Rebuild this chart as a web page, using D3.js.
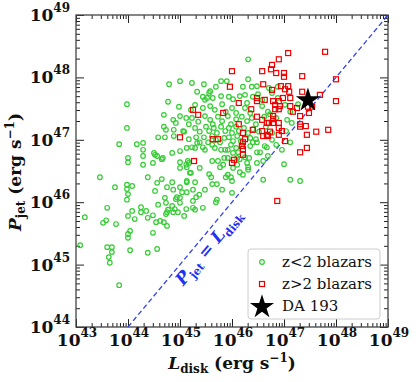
<!DOCTYPE html>
<html>
<head>
<meta charset="utf-8">
<script src="https://d3js.org/d3.v7.min.js"></script>
<style>
  body { margin: 0; background: #fff; }
  text { font-family: "DejaVu Serif", "Liberation Serif", serif; }
</style>
</head>
<body>
<script>
// values are log10 of L_disk and P_jet (erg s^-1)
var lowZ = [
  [43.83,46.93],[44.17,46.93],[44.29,46.95],[44.29,46.84],[44.50,46.79],[44.29,46.74],[44.00,46.71],[44.00,46.64],
  [44.48,46.63],[44.29,46.60],[43.46,46.40],[44.38,46.40],[43.98,46.28],[44.08,46.26],[43.75,46.24],[43.98,46.21],
  [44.52,46.18],[44.00,46.13],[43.98,46.04],[43.60,45.91],[44.25,45.92],[44.08,45.86],[44.25,45.84],[44.35,45.86],
  [43.17,45.76],[44.00,45.78],[44.48,45.79],[44.13,45.73],[44.38,45.75],[43.58,45.71],[44.75,45.84],[44.87,45.84],
  [44.96,45.84],[45.08,45.78],[43.52,45.67],[43.77,45.65],[44.54,45.68],[44.62,45.70],[44.69,45.68],[44.75,45.62],
  [44.04,45.54],[44.00,45.49],[44.00,45.43],[44.48,45.51],[43.08,45.31],[43.60,45.28],[43.69,45.28],[43.69,45.20],
  [44.04,45.23],[44.56,45.25],[44.38,45.19],[43.63,45.12],[43.65,45.03],[43.83,44.67],[43.98,47.57],[43.98,47.19],
  [44.52,46.76],[44.67,46.71],[44.85,46.79],[44.65,46.37],[44.56,46.31],[44.79,47.89],[45.00,47.94],[45.23,47.91],
  [45.46,47.89],[44.77,47.61],[44.69,47.40],[44.69,47.21],[44.73,47.16],[44.87,47.32],[44.92,47.27],[44.98,47.53],
  [45.00,47.38],[45.17,47.25],[45.06,47.14],[44.88,47.16],[45.00,46.82],[45.00,46.64],[45.00,46.55],[45.17,46.63],
  [45.19,46.47],[45.13,46.32],[45.29,46.32],[44.75,46.24],[45.69,47.85],[45.79,47.94],[45.90,47.94],[44.58,47.04],
  [44.71,47.04],[44.88,47.06],[45.17,47.01],[45.08,47.13],[45.29,46.87],[45.13,46.87],[45.23,46.88],[44.56,46.74],
  [44.65,46.69],[45.15,46.66],[45.12,46.60],[45.13,46.56],[45.38,46.55],[45.62,46.66],[45.73,46.66],[45.85,46.71],
  [45.77,46.56],[45.88,46.40],[45.56,46.45],[45.60,46.40],[45.21,46.47],[44.85,46.32],[45.13,46.34],[45.62,46.29],
  [45.00,46.24],[45.04,46.16],[45.13,46.16],[45.25,46.20],[44.94,46.08],[44.92,46.05],[45.00,46.07],[44.71,46.07],
  [45.25,46.02],[45.71,46.04],[44.58,45.96],[44.85,45.94],[45.00,45.99],[45.12,45.89],[45.25,45.91],[45.44,45.91],
  [44.90,45.89],[44.77,45.88],[45.38,46.96],[45.46,47.04],[45.54,46.96],[45.44,46.88],[45.48,46.84],[45.62,46.92],
  [45.77,46.96],[45.85,47.03],[45.79,46.84],[45.87,46.84],[45.67,46.87],[45.33,46.95],[46.48,46.96],[46.40,46.96],
  [46.67,46.88],[46.54,46.80],[46.48,46.80],[46.69,46.74],[46.60,46.66],[46.48,46.63],[46.96,46.84],[47.00,46.61],
  [46.29,46.63],[46.31,46.56],[46.31,46.52],[45.92,46.71],[46.10,46.71],[46.15,46.69],[45.92,46.44],[45.98,46.40],
  [46.00,46.34],[46.21,46.44],[46.60,46.36],[47.12,46.36],[46.00,46.15],[45.71,46.29],[45.69,46.00],[47.31,46.34],
  [45.29,45.88],[46.25,46.72],[46.33,46.71],[46.63,46.90],[46.31,48.29],[46.31,47.97],[46.21,47.85],[46.38,47.85],
  [46.48,47.86],[46.71,47.83],[46.88,47.85],[45.58,47.78],[45.44,47.69],[45.52,47.67],[45.63,47.67],[45.56,47.75],
  [45.79,47.70],[45.94,47.69],[46.02,47.65],[46.15,47.70],[46.25,47.72],[46.40,47.69],[46.50,47.73],[46.77,47.75],
  [46.88,47.67],[45.29,47.56],[45.44,47.51],[45.58,47.54],[45.67,47.48],[45.81,47.57],[45.88,47.45],[46.00,47.51],
  [46.08,47.43],[46.25,47.51],[46.35,47.43],[46.58,47.54],[46.69,47.45],[47.02,47.56],[47.12,47.45],[47.27,47.57],
  [45.23,47.35],[45.35,47.29],[45.48,47.38],[45.58,47.32],[45.63,47.25],[45.73,47.37],[45.81,47.30],[45.92,47.38],
  [45.98,47.25],[46.08,47.33],[46.19,47.37],[46.29,47.30],[46.38,47.35],[46.46,47.25],[46.62,47.37],[46.73,47.41],
  [46.85,47.35],[47.06,47.32],[47.15,47.27],[45.29,47.19],[45.38,47.13],[45.50,47.21],[45.56,47.14],[45.65,47.19],
  [45.71,47.11],[45.79,47.21],[45.87,47.14],[45.94,47.19],[46.00,47.11],[46.08,47.21],[46.13,47.14],[46.23,47.19],
  [46.31,47.11],[46.40,47.17],[46.52,47.13],[46.65,47.21],[46.77,47.11],[47.04,47.14],[45.31,47.04],[45.62,47.06],
  [45.69,47.00],[45.94,47.04],[46.02,46.98],[46.10,47.06],[46.17,46.98],[45.98,46.92],[46.08,46.87],[45.92,46.84],
  [46.35,47.03],[46.35,46.90],[46.46,47.01],[46.77,47.00],[46.85,46.92],[47.12,46.96],[46.02,46.79],[46.12,46.80],
  [46.02,46.55],[46.10,46.60],[45.83,46.60],[46.15,46.48],[45.48,47.64],[45.21,47.48],[45.12,47.35],[45.33,47.77],
  [46.58,47.64],[46.29,47.59],[45.48,46.20],[45.81,46.20],[45.37,46.12],[44.87,46.20],[45.31,46.08],[44.73,45.99],
  [44.73,45.81]
];
var highZ = [
  [47.08,48.39],[47.79,48.41],[46.90,48.29],[46.77,48.20],[46.75,48.13],[46.58,48.10],[46.00,48.10],[46.85,48.07],
  [47.00,48.07],[47.00,48.01],[47.35,48.02],[48.00,47.97],[46.60,47.89],[45.96,47.85],[46.94,47.86],[47.08,47.86],
  [46.77,47.80],[47.02,47.81],[47.10,47.77],[47.35,47.77],[47.69,47.72],[46.48,47.67],[46.48,47.62],[46.98,47.67],
  [47.12,47.67],[46.63,47.64],[46.79,47.62],[46.90,47.62],[46.13,47.59],[46.83,47.56],[46.92,47.54],[46.83,47.49],
  [46.90,47.49],[47.12,47.54],[47.54,47.53],[47.46,47.53],[48.00,47.62],[46.37,47.49],[47.25,47.51],[45.83,47.43],
  [47.17,47.45],[47.48,47.43],[46.48,47.37],[46.58,47.32],[46.79,47.38],[46.79,47.33],[46.71,47.27],[46.79,47.27],
  [46.67,47.27],[47.31,47.38],[46.13,47.25],[46.40,47.16],[46.90,47.27],[46.90,47.19],[46.96,47.14],[46.90,47.08],
  [47.31,47.25],[47.31,47.21],[47.42,47.22],[47.62,47.13],[47.85,47.16],[46.58,47.14],[46.73,47.13],[46.67,47.08],
  [46.60,47.06],[46.69,47.06],[46.21,47.11],[47.44,47.08],[45.63,47.01],[45.73,47.01],[46.25,47.01],[46.21,46.96],
  [47.02,46.98],[47.44,46.87],[47.31,46.80],[46.19,46.90],[46.21,46.85],[46.21,46.76],[46.00,46.63],[46.04,46.68],
  [46.87,46.02],[45.25,47.48],[45.35,47.40],[45.00,47.04],[45.27,46.66]
];
var da193 = [[47.46,47.65]];

var xDecades = [43,44,45,46,47,48,49];
var yDecades = [44,45,46,47,48,49];
var legendLabels = ["z<2 blazars", "z>2 blazars", "DA 193"];

var W = 416, H = 382;
var pL = 76, pR = 388, pT = 15, pB = 327;

var svg = d3.select("body").append("svg").attr("width", W).attr("height", H);

var x = d3.scaleLog().domain([1e43, 1e49]).range([pL, pR]);
var y = d3.scaleLog().domain([1e44, 1e49]).range([pB, pT]);

function minors(decs) {
  var out = [];
  for (var i = 0; i < decs.length - 1; i++)
    for (var k = 2; k <= 9; k++) out.push(k * Math.pow(10, decs[i]));
  return out;
}
var xMaj = xDecades.map(function(d) { return Math.pow(10, d); });
var yMaj = yDecades.map(function(d) { return Math.pow(10, d); });

function drawAxis(axisFn, scale, vals, size, tx, ty) {
  var g = svg.append("g").attr("transform", "translate(" + tx + "," + ty + ")")
    .call(axisFn(scale).tickValues(vals).tickSize(size).tickFormat(""));
  g.select(".domain").remove();
  g.selectAll(".tick line").attr("stroke", "#222").attr("stroke-width", 1);
}
// inward ticks on all four sides
drawAxis(d3.axisBottom, x, xMaj, -8, 0, pB);
drawAxis(d3.axisBottom, x, minors(xDecades), -4, 0, pB);
drawAxis(d3.axisTop, x, xMaj, -8, 0, pT);
drawAxis(d3.axisTop, x, minors(xDecades), -4, 0, pT);
drawAxis(d3.axisLeft, y, yMaj, -8, pL, 0);
drawAxis(d3.axisLeft, y, minors(yDecades), -4, pL, 0);
drawAxis(d3.axisRight, y, yMaj, -8, pR, 0);
drawAxis(d3.axisRight, y, minors(yDecades), -4, pR, 0);

svg.append("rect").attr("x", pL).attr("y", pT)
  .attr("width", pR - pL).attr("height", pB - pT)
  .attr("fill", "none").attr("stroke", "#444").attr("stroke-width", 1.3);

// tick labels
xDecades.forEach(function(d) {
  var t = svg.append("text").attr("x", x(Math.pow(10, d)) + 1).attr("y", 346)
    .attr("text-anchor", "middle").attr("font-size", 17).attr("font-weight", "bold").attr("fill", "#111");
  t.append("tspan").text("10");
  t.append("tspan").attr("dy", -9).attr("font-size", 12).text(d);
});
yDecades.forEach(function(d) {
  var t = svg.append("text").attr("x", 70).attr("y", y(Math.pow(10, d)) + 6)
    .attr("text-anchor", "end").attr("font-size", 17).attr("font-weight", "bold").attr("fill", "#111");
  t.append("tspan").text("10");
  t.append("tspan").attr("dy", -9).attr("font-size", 12).text(d);
});

// axis titles
var xl = svg.append("text").attr("x", 232).attr("y", 369).attr("text-anchor", "middle")
  .attr("font-size", 17).attr("font-weight", "bold").attr("fill", "#111");
xl.append("tspan").attr("font-style", "italic").text("L");
xl.append("tspan").attr("dy", 4).attr("font-size", 12).text("disk");
xl.append("tspan").attr("dy", -4).text(" (erg s");
xl.append("tspan").attr("dy", -7).attr("font-size", 12).text("\u22121");
xl.append("tspan").attr("dy", 7).text(")");

var yl = svg.append("text").attr("transform", "translate(21,172) rotate(-90)").attr("text-anchor", "middle")
  .attr("font-size", 17).attr("font-weight", "bold").attr("fill", "#111");
yl.append("tspan").attr("font-style", "italic").text("P");
yl.append("tspan").attr("dy", 4).attr("font-size", 12).text("jet");
yl.append("tspan").attr("dy", -4).text(" (erg s");
yl.append("tspan").attr("dy", -7).attr("font-size", 12).text("\u22121");
yl.append("tspan").attr("dy", 7).text(")");

// one-to-one line
svg.append("clipPath").attr("id", "plotclip").append("rect")
  .attr("x", pL).attr("y", pT).attr("width", pR - pL).attr("height", pB - pT);
svg.append("line")
  .attr("x1", x(1e44)).attr("y1", y(1e44)).attr("x2", x(1e49)).attr("y2", y(1e49))
  .attr("stroke", "#3344ee").attr("stroke-width", 1.3).attr("stroke-dasharray", "5,3");

var ang = Math.atan2(y(1e44) - y(1e49), x(1e49) - x(1e44)) * 180 / Math.PI;
var lab = svg.append("text").attr("transform", "translate(213,251) rotate(" + (-ang) + ")")
  .attr("text-anchor", "middle").attr("font-size", 17).attr("font-weight", "bold").attr("fill", "#2233ee");
lab.append("tspan").attr("font-style", "italic").text("P");
lab.append("tspan").attr("dy", 4).attr("font-size", 11).text("jet");
lab.append("tspan").attr("dy", -4).text(" = ");
lab.append("tspan").attr("font-style", "italic").text("L");
lab.append("tspan").attr("dy", 4).attr("font-size", 11).text("disk");

var pts = svg.append("g").attr("clip-path", "url(#plotclip)");
pts.selectAll("circle.lo").data(lowZ).enter().append("circle")
  .attr("cx", function(d) { return x(Math.pow(10, d[0])); })
  .attr("cy", function(d) { return y(Math.pow(10, d[1])); })
  .attr("r", 2.3).attr("fill", "none").attr("stroke", "#33cc33").attr("stroke-width", 1.2);

pts.selectAll("rect.hi").data(highZ).enter().append("rect")
  .attr("x", function(d) { return x(Math.pow(10, d[0])) - 2.5; })
  .attr("y", function(d) { return y(Math.pow(10, d[1])) - 2.5; })
  .attr("width", 5).attr("height", 5).attr("fill", "none").attr("stroke", "#ee0000").attr("stroke-width", 1.2);

var star = d3.symbol().type(d3.symbolStar).size(180);
pts.selectAll("path.da").data(da193).enter().append("path")
  .attr("transform", function(d) { return "translate(" + x(Math.pow(10, d[0])) + "," + (y(Math.pow(10, d[1])) + 1) + ")"; })
  .attr("d", star).attr("fill", "#000");

// legend
var lg = svg.append("g");
lg.append("rect").attr("x", 248).attr("y", 249).attr("width", 132).attr("height", 70)
  .attr("rx", 3).attr("fill", "#fff").attr("fill-opacity", 0.85).attr("stroke", "#ccc");
var ly = [262, 284, 306];
lg.append("circle").attr("cx", 262).attr("cy", ly[0]).attr("r", 2.3)
  .attr("fill", "none").attr("stroke", "#33cc33").attr("stroke-width", 1.2);
lg.append("rect").attr("x", 259.5).attr("y", ly[1] - 2.5).attr("width", 5).attr("height", 5)
  .attr("fill", "none").attr("stroke", "#ee0000").attr("stroke-width", 1.2);
lg.append("path").attr("transform", "translate(262," + (ly[2] + 1) + ")").attr("d", star).attr("fill", "#000");
legendLabels.forEach(function(s, i) {
  lg.append("text").attr("x", 282).attr("y", ly[i] + 5).attr("font-size", 15).attr("fill", "#111").text(s);
});
</script>
</body>
</html>
